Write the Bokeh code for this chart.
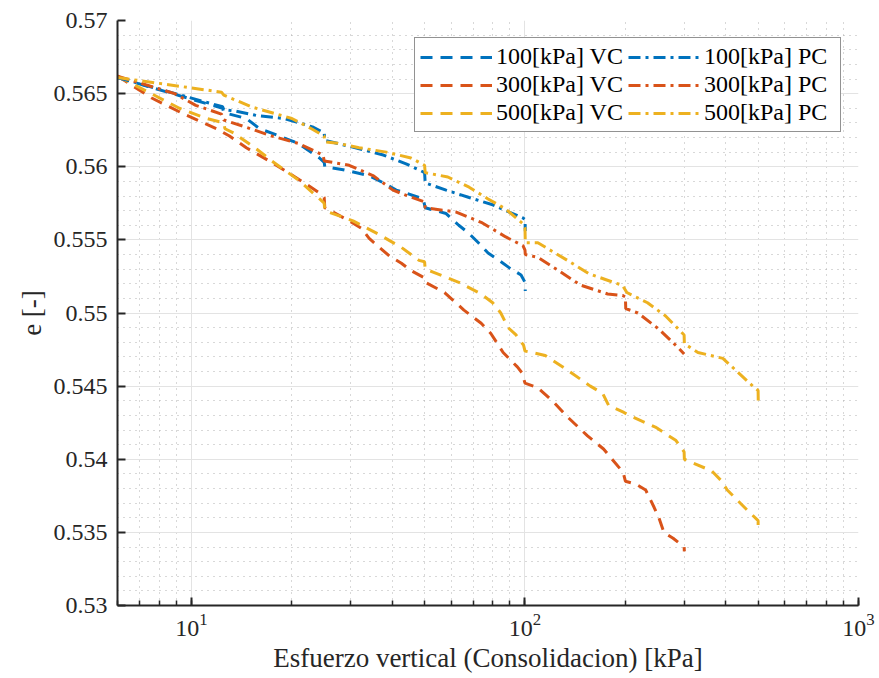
from bokeh.plotting import figure
from bokeh.models import (Range1d, LogTicker, FixedTicker, CustomJSTickFormatter,
                          Legend, LegendItem)
from bokeh.embed import file_html
from bokeh.resources import INLINE

# ---- data (vertical stress [kPa], void ratio e [-]) ----
x_100_vc = [6, 12.4, 12.5, 14.6, 16.0, 17.4, 20.9, 24.2, 25.0, 25.1, 28.5, 34.0, 37.6, 41.1, 44.0, 49.5, 50.2,
            58.0, 63.3, 67.5, 72.5, 77.5, 83.6, 89.6, 97.3, 100, 100.2]
e_100_vc = [0.5661, 0.5640, 0.5637, 0.5633, 0.5626, 0.5623, 0.5616, 0.5606, 0.5603, 0.5600, 0.5598, 0.5594,
            0.5589, 0.5584, 0.5582, 0.5578, 0.5572, 0.5568, 0.5560, 0.5555, 0.5548, 0.5541, 0.5536, 0.5531,
            0.5526, 0.5521, 0.5515]

x_300_vc = [6, 7.6, 9.5, 11.9, 13.0, 14.6, 17.4, 21.8, 24.2, 25.0, 25.1, 29.7, 32.3, 34.1, 39.2, 42.6, 45.5,
            50, 50.2, 57.4, 65.6, 73.9, 79, 86, 95, 98, 100, 109, 122, 134, 154, 172, 181, 197, 200, 215, 230,
            244, 252, 261, 278, 300, 300.5]
e_300_vc = [0.5662, 0.5647, 0.5636, 0.5626, 0.5621, 0.5613, 0.5603, 0.5589, 0.5582, 0.5579, 0.5572, 0.5563,
            0.5558, 0.5551, 0.5539, 0.5534, 0.5529, 0.5524, 0.5521, 0.5514, 0.5502, 0.5493, 0.5486, 0.5473,
            0.5463, 0.5459, 0.5452, 0.5449, 0.5439, 0.5429, 0.5416, 0.5407, 0.5401, 0.5391, 0.5385, 0.5383,
            0.5379, 0.5367, 0.5360, 0.5350, 0.5346, 0.5340, 0.5337]

x_500_vc = [6, 9.2, 11.1, 12.5, 12.6, 13.4, 15.7, 17.4, 20.9, 24.5, 25.0, 25.1, 30.5, 36.3, 42.5, 48.1, 50,
            50.2, 53, 63.3, 73.9, 80, 84.6, 89, 94, 99, 100, 115, 134, 157, 171, 178, 198, 205, 246, 283, 300,
            300.5, 363, 389, 404, 465, 500, 500.5]
e_500_vc = [0.5662, 0.5640, 0.5633, 0.5630, 0.5626, 0.5623, 0.5612, 0.5604, 0.5591, 0.5577, 0.5575, 0.5570,
            0.5563, 0.5554, 0.5545, 0.5536, 0.5535, 0.5530, 0.5528, 0.5521, 0.5513, 0.5507, 0.5500, 0.5490,
            0.5485, 0.5478, 0.5474, 0.5471, 0.5461, 0.5450, 0.5445, 0.5437, 0.5432, 0.5430, 0.5422, 0.5413,
            0.5405, 0.5400, 0.5392, 0.5385, 0.5379, 0.5365, 0.5358, 0.5350]

x_100_pc = [6, 12.4, 12.5, 13.6, 15.7, 18.9, 21.1, 23.2, 25.0, 25.1, 29.7, 33.4, 37.6, 44.0, 50, 50.2, 58,
            68, 80, 87.6, 98.6, 100, 100.2]
e_100_pc = [0.5661, 0.5641, 0.5639, 0.5638, 0.5635, 0.5633, 0.5630, 0.5627, 0.5623, 0.5618, 0.5614, 0.5611,
            0.5608, 0.5602, 0.5596, 0.5589, 0.5584, 0.5579, 0.5574, 0.5570, 0.5565, 0.5564, 0.5556]

x_300_pc = [6, 8.9, 10.3, 12.3, 12.5, 14.6, 17.4, 20.9, 24.8, 25.0, 29.7, 35, 40.2, 44.6, 50, 50.2, 62.2,
            73.9, 87.6, 98.6, 100, 100.2, 109.3, 126, 147, 177, 196, 200, 200.5, 218, 252, 289, 300]
e_300_pc = [0.5662, 0.5650, 0.5642, 0.5636, 0.5632, 0.5627, 0.5621, 0.5616, 0.5608, 0.5604, 0.5601, 0.5594,
            0.5584, 0.5580, 0.5576, 0.5572, 0.5569, 0.5562, 0.5552, 0.5546, 0.5543, 0.5540, 0.5538, 0.5529,
            0.5519, 0.5513, 0.5512, 0.5511, 0.5503, 0.5500, 0.5489, 0.5476, 0.5472]

x_500_pc = [6, 12.3, 12.5, 15.1, 20, 22.9, 25, 25.1, 27.5, 31.8, 38.4, 45.5, 50, 50.2, 58.7, 68, 77.5, 87.6,
            98.6, 100, 100.2, 109.3, 117, 134, 155, 184, 196, 202, 233, 264, 300, 300.5, 330, 392, 482, 500,
            500.5]
e_500_pc = [0.5661, 0.5651, 0.5649, 0.5641, 0.5633, 0.5626, 0.5621, 0.5617, 0.5616, 0.5613, 0.5610, 0.5606,
            0.5601, 0.5596, 0.5593, 0.5586, 0.5578, 0.5571, 0.5561, 0.5558, 0.5548, 0.5548, 0.5544, 0.5536,
            0.5527, 0.5521, 0.5519, 0.5514, 0.5507, 0.5498, 0.5485, 0.5479, 0.5473, 0.5469, 0.5450, 0.5447,
            0.5440]

labels_vc = ["100[kPa] VC", "300[kPa] VC", "500[kPa] VC"]
labels_pc = ["100[kPa] PC", "300[kPa] PC", "500[kPa] PC"]
colors = ["#0072BD", "#D95319", "#EDB120"]

y_major_ticks = [0.53, 0.535, 0.54, 0.545, 0.55, 0.555, 0.56, 0.565, 0.57]
y_minor_ticks = [round(0.53 + 0.001 * i, 3) for i in range(41)]

FONT = "Liberation Serif"

p = figure(frame_width=741, frame_height=585, x_axis_type="log",
           x_range=Range1d(6, 1000), y_range=Range1d(0.53, 0.57),
           output_backend="svg", toolbar_location=None,
           min_border_left=117, min_border_right=18, min_border_top=20, min_border_bottom=73,
           background_fill_color="white", border_fill_color="white")
p.outline_line_color = None

p.xaxis.ticker = LogTicker(num_minor_ticks=10)
p.yaxis.ticker = FixedTicker(ticks=y_major_ticks, minor_ticks=y_minor_ticks)
p.yaxis.formatter = CustomJSTickFormatter(code="return String(Number(tick.toFixed(3)));")

for ax in (p.xaxis[0], p.yaxis[0]):
    ax.axis_line_color = "#262626"
    ax.axis_line_width = 2
    ax.major_tick_line_color = "#262626"
    ax.major_tick_line_width = 2
    ax.major_tick_in = 8
    ax.major_tick_out = 0
    ax.minor_tick_line_color = "#262626"
    ax.minor_tick_line_width = 1.5
    ax.minor_tick_in = 5
    ax.minor_tick_out = 0
    ax.major_label_text_font = FONT
    ax.major_label_text_font_size = "24px"
    ax.major_label_text_color = "#262626"
    ax.axis_label_text_font = FONT
    ax.axis_label_text_font_size = "27px"
    ax.axis_label_text_font_style = "normal"
    ax.axis_label_text_color = "#262626"
    ax.axis_label_standoff = 4
p.yaxis.minor_tick_line_color = None
p.xaxis.major_label_standoff = 8
p.yaxis.major_label_standoff = 10
p.xaxis.axis_label = "Esfuerzo vertical (Consolidacion) [kPa]"
p.yaxis.axis_label = "e [-]"

p.grid.grid_line_color = "#e3e3e3"
p.grid.grid_line_width = 1
p.grid.minor_grid_line_color = "#b0b0b0"
p.grid.minor_grid_line_dash = "1 5"
p.grid.minor_grid_line_width = 1

xs_vc = [x_100_vc, x_300_vc, x_500_vc]
es_vc = [e_100_vc, e_300_vc, e_500_vc]
xs_pc = [x_100_pc, x_300_pc, x_500_pc]
es_pc = [e_100_pc, e_300_pc, e_500_pc]

r_vc, r_pc = [], []
for xs, es, c in zip(xs_vc, es_vc, colors):
    r_vc.append(p.line(xs, es, line_color=c, line_width=3, line_dash="12 8"))
for xs, es, c in zip(xs_pc, es_pc, colors):
    r_pc.append(p.line(xs, es, line_color=c, line_width=3, line_dash="12 5 3 5"))

items = [LegendItem(label=l, renderers=[r]) for l, r in zip(labels_vc, r_vc)] + \
        [LegendItem(label=l, renderers=[r]) for l, r in zip(labels_pc, r_pc)]
legend = Legend(items=items, location="top_right", nrows=3, orientation="vertical")
legend.margin = 17
legend.padding = 5
legend.spacing = 1
legend.glyph_width = 72
legend.glyph_height = 20
legend.label_standoff = 4
legend.label_height = 20
legend.label_width = 131
legend.label_text_font = FONT
legend.label_text_font_size = "24px"
legend.label_text_color = "#000000"
legend.border_line_color = "#262626"
legend.border_line_width = 1.5
legend.background_fill_alpha = 1.0
p.add_layout(legend, "center")

open("out.html", "w").write(file_html(p, INLINE))
